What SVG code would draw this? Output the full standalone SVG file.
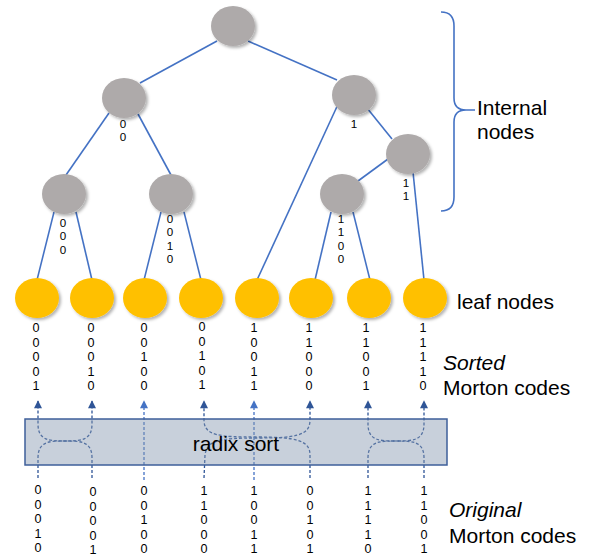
<svg xmlns="http://www.w3.org/2000/svg" width="592" height="559" viewBox="0 0 592 559">
<defs>
<filter id="sh" x="-30%" y="-30%" width="170%" height="170%">
<feDropShadow dx="2" dy="2" stdDeviation="1.5" flood-color="#000" flood-opacity="0.3"/>
</filter>
<marker id="ad" viewBox="0 0 10 10" refX="9" refY="5" markerWidth="9" markerHeight="8" markerUnits="userSpaceOnUse" orient="auto">
<path d="M0,0 L10,5 L0,10 Z" fill="#2F5597"/>
</marker>
<marker id="al" viewBox="0 0 10 10" refX="9" refY="5" markerWidth="9" markerHeight="8" markerUnits="userSpaceOnUse" orient="auto">
<path d="M0,0 L10,5 L0,10 Z" fill="#4472C4"/>
</marker>
</defs>
<style>
.edge{stroke:#4472C4;stroke-width:1.6;fill:none}
.inode{fill:#AEAAAA;filter:url(#sh)}
.leaf{fill:#FFC000;filter:url(#sh)}
.bits{font-family:"Liberation Sans",sans-serif;font-size:12.6px;fill:#000;text-anchor:middle}
.ibits{font-family:"Liberation Sans",sans-serif;font-size:11.6px;fill:#000;text-anchor:middle}
.lbl{font-family:"Liberation Sans",sans-serif;font-size:21px;fill:#000}
.dd{stroke:#2F5597;stroke-width:1.3;stroke-dasharray:3 2;fill:none}
.dl{stroke:#4472C4;stroke-width:1.3;stroke-dasharray:3 2;fill:none}
</style>

<g id="connectors">
<line class="edge" x1="217" y1="41" x2="140" y2="83"/>
<line class="edge" x1="248" y1="41" x2="337" y2="80"/>
<line class="edge" x1="109" y1="113" x2="66" y2="175"/>
<line class="edge" x1="138" y1="114" x2="171" y2="175"/>
<line class="edge" x1="54" y1="212" x2="37" y2="280"/>
<line class="edge" x1="76" y1="212" x2="92" y2="280"/>
<line class="edge" x1="161" y1="212" x2="144" y2="280"/>
<line class="edge" x1="184" y1="212" x2="201" y2="280"/>
<line class="edge" x1="340" y1="100" x2="257" y2="280"/>
<line class="edge" x1="367" y1="108" x2="392" y2="139"/>
<line class="edge" x1="388" y1="159" x2="358" y2="181"/>
<line class="edge" x1="413" y1="172" x2="424" y2="280"/>
<line class="edge" x1="331" y1="212" x2="315" y2="280"/>
<line class="edge" x1="353" y1="212" x2="370" y2="280"/>
</g>

<g id="brace">
<path class="edge" stroke-width="2" d="M441,12 Q454,12 454,26 L454,98 Q454,110 466,110 L475,110 M466,110 Q454,110 454,122 L454,197 Q454,211 441,211"/>
</g>

<g id="root"><ellipse class="inode" cx="233" cy="26" rx="22" ry="20"/></g>
<g id="n0"><ellipse class="inode" cx="124" cy="98" rx="22" ry="20"/>
<text class="ibits" x="123" y="128">0<tspan x="123" dy="13.4">0</tspan></text></g>
<g id="n1"><ellipse class="inode" cx="354" cy="95" rx="22" ry="20"/>
<text class="ibits" x="354" y="128">1</text></g>
<g id="n00"><ellipse class="inode" cx="64" cy="194" rx="22" ry="20"/>
<text class="ibits" x="63" y="227">0<tspan x="63" dy="13.4">0</tspan><tspan x="63" dy="13.4">0</tspan></text></g>
<g id="n0010"><ellipse class="inode" cx="171" cy="194" rx="22" ry="20"/>
<text class="ibits" x="170" y="223">0<tspan x="170" dy="13.4">0</tspan><tspan x="170" dy="13.4">1</tspan><tspan x="170" dy="13.4">0</tspan></text></g>
<g id="n11"><ellipse class="inode" cx="408" cy="154" rx="22" ry="20"/>
<text class="ibits" x="406" y="187">1<tspan x="406" dy="13.4">1</tspan></text></g>
<g id="n1100"><ellipse class="inode" cx="342" cy="194" rx="22" ry="20"/>
<text class="ibits" x="341" y="223">1<tspan x="341" dy="13.4">1</tspan><tspan x="341" dy="13.4">0</tspan><tspan x="341" dy="13.4">0</tspan></text></g>

<g id="leaf0"><ellipse class="leaf" cx="37" cy="298" rx="22" ry="20"/></g>
<g id="leaf1"><ellipse class="leaf" cx="92" cy="298" rx="22" ry="20"/></g>
<g id="leaf2"><ellipse class="leaf" cx="145" cy="298" rx="22" ry="20"/></g>
<g id="leaf3"><ellipse class="leaf" cx="201" cy="298" rx="22" ry="20"/></g>
<g id="leaf4"><ellipse class="leaf" cx="257" cy="298" rx="22" ry="20"/></g>
<g id="leaf5"><ellipse class="leaf" cx="311" cy="298" rx="22" ry="20"/></g>
<g id="leaf6"><ellipse class="leaf" cx="369" cy="298" rx="22" ry="20"/></g>
<g id="leaf7"><ellipse class="leaf" cx="425" cy="298" rx="22" ry="20"/></g>

<g id="sorted-codes" class="bits">
<text x="36" y="332">0<tspan x="36" dy="14.5">0</tspan><tspan x="36" dy="14.5">0</tspan><tspan x="36" dy="14.5">0</tspan><tspan x="36" dy="14.5">1</tspan></text>
<text x="91" y="332">0<tspan x="91" dy="14.5">0</tspan><tspan x="91" dy="14.5">0</tspan><tspan x="91" dy="14.5">1</tspan><tspan x="91" dy="14.5">0</tspan></text>
<text x="144" y="332">0<tspan x="144" dy="14.5">0</tspan><tspan x="144" dy="14.5">1</tspan><tspan x="144" dy="14.5">0</tspan><tspan x="144" dy="14.5">0</tspan></text>
<text x="202" y="331">0<tspan x="202" dy="14.5">0</tspan><tspan x="202" dy="14.5">1</tspan><tspan x="202" dy="14.5">0</tspan><tspan x="202" dy="14.5">1</tspan></text>
<text x="254" y="332">1<tspan x="254" dy="14.5">0</tspan><tspan x="254" dy="14.5">0</tspan><tspan x="254" dy="14.5">1</tspan><tspan x="254" dy="14.5">1</tspan></text>
<text x="309" y="332">1<tspan x="309" dy="14.5">1</tspan><tspan x="309" dy="14.5">0</tspan><tspan x="309" dy="14.5">0</tspan><tspan x="309" dy="14.5">0</tspan></text>
<text x="366" y="332">1<tspan x="366" dy="14.5">1</tspan><tspan x="366" dy="14.5">0</tspan><tspan x="366" dy="14.5">0</tspan><tspan x="366" dy="14.5">1</tspan></text>
<text x="423" y="332">1<tspan x="423" dy="14.5">1</tspan><tspan x="423" dy="14.5">1</tspan><tspan x="423" dy="14.5">1</tspan><tspan x="423" dy="14.5">0</tspan></text>
</g>

<g id="sort-arrows">
<path class="dd" marker-end="url(#ad)" d="M38,478 L38,458 C38,441 50,441 65,441 C80,441 92,441 92,424 L92,401"/>
<path class="dd" marker-end="url(#ad)" d="M92,478 L92,458 C92,441 80,441 65,441 C50,441 38,441 38,424 L38,401"/>
<path class="dl" marker-end="url(#al)" d="M144,480 L144,401"/>
<path class="dd" marker-end="url(#ad)" d="M204,478 L205,455 C207,440 220,438 257,438 C295,438 310,436 310,420 L310,401"/>
<path class="dd" marker-end="url(#ad)" d="M310,478 L310,455 C310,440 295,437 257,437 C220,437 204,436 204,420 L204,401"/>
<path class="dl" marker-end="url(#al)" d="M254,480 L254,401"/>
<path class="dd" marker-end="url(#ad)" d="M368,478 L368,458 C368,441 380,441 396,441 C412,441 424,441 424,424 L424,401"/>
<path class="dd" marker-end="url(#ad)" d="M424,478 L424,458 C424,441 412,441 396,441 C380,441 368,441 368,424 L368,401"/>
</g>

<g id="radix-sort">
<rect x="25" y="419" width="422" height="46" fill="#8497B0" fill-opacity="0.45" stroke="#3E5F9A" stroke-width="1.5"/>
<text class="lbl" x="236" y="451" text-anchor="middle">radix sort</text>
</g>

<g id="original-codes" class="bits">
<text x="38" y="494">0<tspan x="38" dy="14.5">0</tspan><tspan x="38" dy="14.5">0</tspan><tspan x="38" dy="14.5">1</tspan><tspan x="38" dy="14.5">0</tspan></text>
<text x="93" y="496">0<tspan x="93" dy="14.5">0</tspan><tspan x="93" dy="14.5">0</tspan><tspan x="93" dy="14.5">0</tspan><tspan x="93" dy="14.5">1</tspan></text>
<text x="144" y="495">0<tspan x="144" dy="14.5">0</tspan><tspan x="144" dy="14.5">1</tspan><tspan x="144" dy="14.5">0</tspan><tspan x="144" dy="14.5">0</tspan></text>
<text x="204" y="495">1<tspan x="204" dy="14.5">1</tspan><tspan x="204" dy="14.5">0</tspan><tspan x="204" dy="14.5">0</tspan><tspan x="204" dy="14.5">0</tspan></text>
<text x="254" y="495">1<tspan x="254" dy="14.5">0</tspan><tspan x="254" dy="14.5">0</tspan><tspan x="254" dy="14.5">1</tspan><tspan x="254" dy="14.5">1</tspan></text>
<text x="310" y="495">0<tspan x="310" dy="14.5">0</tspan><tspan x="310" dy="14.5">1</tspan><tspan x="310" dy="14.5">0</tspan><tspan x="310" dy="14.5">1</tspan></text>
<text x="368" y="495">1<tspan x="368" dy="14.5">1</tspan><tspan x="368" dy="14.5">1</tspan><tspan x="368" dy="14.5">1</tspan><tspan x="368" dy="14.5">0</tspan></text>
<text x="424" y="495">1<tspan x="424" dy="14.5">1</tspan><tspan x="424" dy="14.5">0</tspan><tspan x="424" dy="14.5">0</tspan><tspan x="424" dy="14.5">1</tspan></text>
</g>

<g id="labels" class="lbl">
<text x="477" y="115">Internal</text>
<text x="477" y="139">nodes</text>
<text x="457" y="309">leaf nodes</text>
<text x="443" y="370" font-style="italic">Sorted</text>
<text x="443" y="395">Morton codes</text>
<text x="449" y="517" font-style="italic">Original</text>
<text x="449" y="543">Morton codes</text>
</g>
</svg>
